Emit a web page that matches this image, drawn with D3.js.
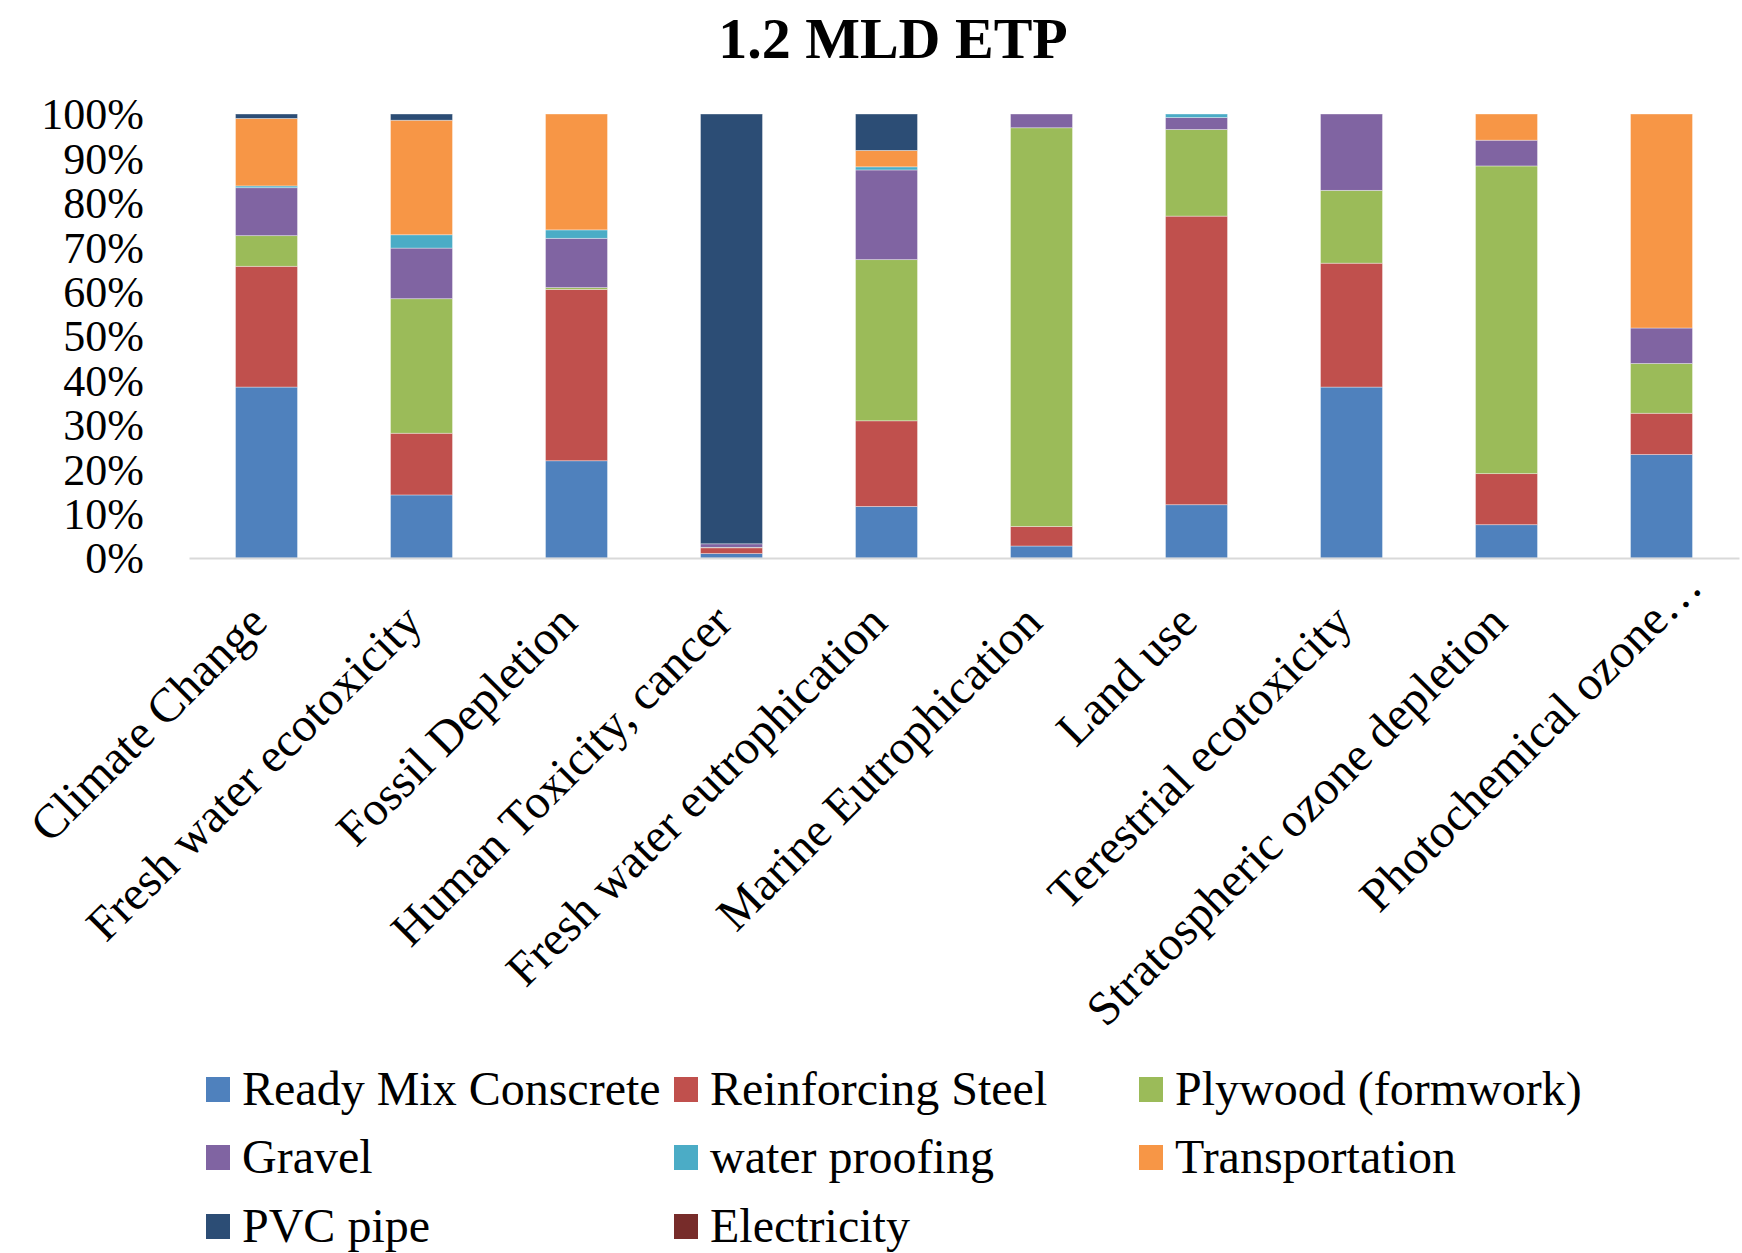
<!DOCTYPE html>
<html>
<head>
<meta charset="utf-8">
<script src="https://cdn.jsdelivr.net/npm/d3@7"></script>
<style>
  html, body { margin: 0; padding: 0; background: #fff; }
  svg { display: block; }
  text { font-family: "Liberation Serif", "Times New Roman", serif; fill: #000; }
</style>
</head>
<body>
<svg id="chart" width="1742" height="1253"></svg>
<script>
// ---- data ----
const title = "1.2 MLD ETP";
const categories = [
  "Climate Change", "Fresh water ecotoxicity", "Fossil Depletion",
  "Human Toxicity, cancer", "Fresh water eutrophication", "Marine Eutrophication",
  "Land use", "Terestrial ecotoxicity", "Stratospheric ozone depletion",
  "Photochemical ozone…"
];
const seriesNames = [
  "Ready Mix Conscrete", "Reinforcing Steel", "Plywood (formwork)",
  "Gravel", "water proofing", "Transportation", "PVC pipe", "Electricity"
];
const seriesColors = ["#4F81BD", "#C0504D", "#9BBB59", "#8064A2", "#4BACC6", "#F79646", "#2C4D75", "#772C2A"];
// percent shares per category (same order as categories)
const readyMixConcrete  = [38.5, 14.2, 21.9,  1.0, 11.6,  2.7, 12.0, 38.5,  7.5, 23.3];
const reinforcingSteel  = [27.2, 13.9, 38.6,  1.3, 19.3,  4.4, 65.0, 27.9, 11.5,  9.3];
const plywood           = [ 6.9, 30.3,  0.4,  0.1, 36.3, 89.8, 19.5, 16.4, 69.3, 11.2];
const gravel            = [10.8, 11.4, 11.1,  0.8, 20.2,  3.1,  2.7, 17.2,  5.8,  8.0];
const waterProofing     = [ 0.4,  3.0,  1.9,  0.0,  0.7,  0.0,  0.8,  0.0,  0.0,  0.0];
const transportation    = [15.2, 25.8, 26.1,  0.0,  3.7,  0.0,  0.0,  0.0,  5.9, 48.2];
const pvcPipe           = [ 1.0,  1.4,  0.0, 96.8,  8.2,  0.0,  0.0,  0.0,  0.0,  0.0];
const electricity       = [ 0.0,  0.0,  0.0,  0.0,  0.0,  0.0,  0.0,  0.0,  0.0,  0.0];
const yTicks = [0, 0.1, 0.2, 0.3, 0.4, 0.5, 0.6, 0.7, 0.8, 0.9, 1.0];

const seriesValues = [readyMixConcrete, reinforcingSteel, plywood, gravel, waterProofing, transportation, pvcPipe, electricity];

// build table for d3.stack
const table = categories.map((c, i) => {
  const row = { category: c };
  seriesNames.forEach((s, j) => row[s] = seriesValues[j][i]);
  return row;
});

const stack = d3.stack().keys(seriesNames).offset(d3.stackOffsetExpand);
const stacked = stack(table);

const svg = d3.select("#chart");
const plotLeft = 189, plotRight = 1739, plotTop = 114, plotBottom = 558;

const x = d3.scaleBand().domain(categories).range([plotLeft, plotRight]).padding(0);
const barW = x.bandwidth() * 0.4;
const y = d3.scaleLinear().domain([0, 1]).range([plotBottom, plotTop]);
const color = d3.scaleOrdinal().domain(seriesNames).range(seriesColors);

// title
svg.append("text")
  .attr("x", 893).attr("y", 58)
  .attr("text-anchor", "middle")
  .style("font-size", "58px").style("font-weight", "bold")
  .text(title);

// bars
svg.append("g").selectAll("g")
  .data(stacked)
  .join("g")
    .attr("fill", d => color(d.key))
  .selectAll("rect")
  .data(d => d)
  .join("rect")
    .attr("x", d => x(d.data.category) + (x.bandwidth() - barW) / 2)
    .attr("width", barW)
    .attr("y", d => y(d[1]))
    .attr("height", d => Math.max(0, y(d[0]) - y(d[1])))
    .attr("stroke", "#ffffff")
    .attr("stroke-opacity", 0.45)
    .attr("stroke-width", 0.8);

// y axis (labels only)
const yAxis = d3.axisLeft(y).tickValues(yTicks).tickFormat(d3.format(".0%")).tickSize(0).tickPadding(0);
const gy = svg.append("g").attr("transform", `translate(144,0)`).call(yAxis);
gy.select(".domain").remove();
gy.selectAll("text")
  .style("font-size", "44px")
  .style("font-family", "'Liberation Serif', serif")
  .attr("dy", "0.34em");

// x axis
const xAxis = d3.axisBottom(x).tickSize(0).tickPadding(0);
const gx = svg.append("g").attr("transform", `translate(0,${plotBottom})`).call(xAxis);
gx.select(".domain").attr("stroke", "#d9d9d9").attr("stroke-width", 2);
const lastCat = categories[categories.length - 1];
gx.selectAll("text")
  .style("font-size", "48px")
  .style("font-family", "'Liberation Serif', serif")
  .attr("text-anchor", "end")
  .attr("dy", 0)
  .attr("y", 0)
  .attr("transform", d => d === lastCat ? "translate(43,31) rotate(-45)" : "translate(3,67) rotate(-45)");

// legend
const legendCols = [206, 674, 1139];
const legendRows = [1089, 1157, 1226];
const legend = svg.append("g").selectAll("g")
  .data(seriesNames)
  .join("g")
    .attr("transform", (d, i) => `translate(${legendCols[i % 3]},${legendRows[Math.floor(i / 3)]})`);
legend.append("rect")
  .attr("x", 0).attr("y", -12).attr("width", 24).attr("height", 25)
  .attr("fill", d => color(d));
legend.append("text")
  .attr("x", 36).attr("y", 0).attr("dy", "0.34em")
  .style("font-size", "48px")
  .text(d => d);
</script>
</body>
</html>
